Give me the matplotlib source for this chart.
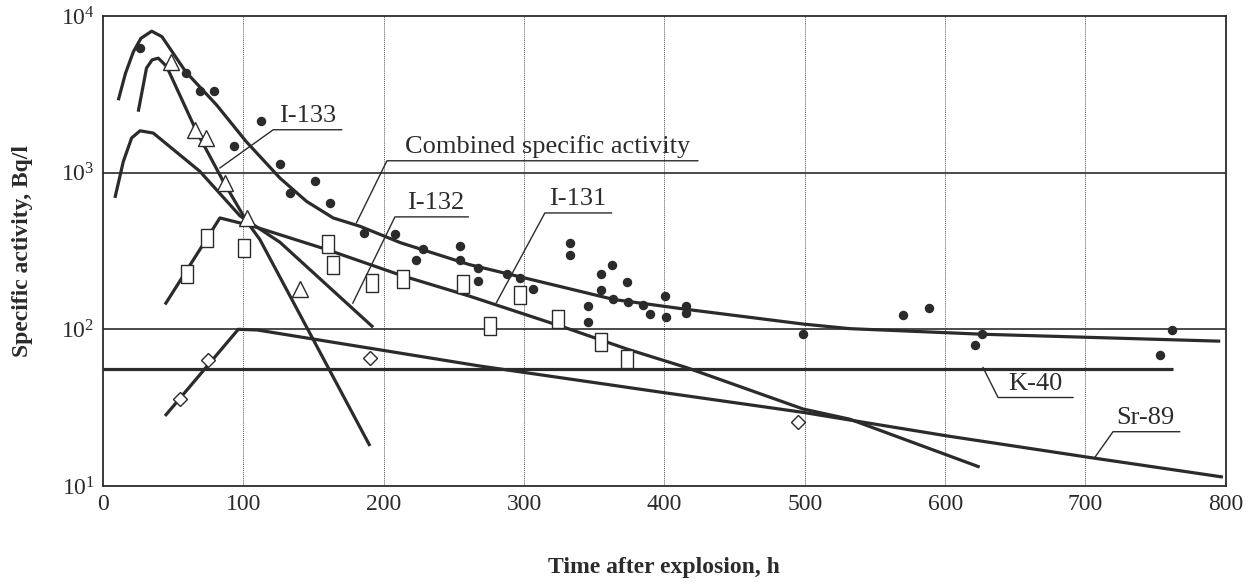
import numpy as np
import matplotlib.pyplot as plt
from matplotlib.transforms import offset_copy

plt.rcParams['font.family'] = ['Liberation Serif', 'DejaVu Serif']
plt.rcParams['mathtext.fontset'] = 'custom'
plt.rcParams['mathtext.rm'] = 'Liberation Serif'

# fitted curves: time after explosion (h), specific activity (Bq/l)
combined_t = [10.9, 16, 21.6, 27, 34.7, 42, 59, 81, 102, 126, 145, 164, 183, 212, 261, 364, 416, 499, 532, 627, 796]
combined_v = [2900, 4300, 5900, 7200, 8000, 7380, 4400, 2700, 1580, 925, 656, 514, 455, 357, 259, 155, 134, 108, 101, 93, 84]

i133_t = [25.1, 31, 35, 39.4, 45.3, 66.7, 85.7, 102.3, 111.8, 149.8, 190.2]
i133_v = [2450, 4650, 5250, 5380, 4770, 1830, 880, 490, 374, 86, 18]

i132_t = [8.5, 14.5, 20.4, 26.4, 35.8, 69, 97.6, 126, 192.5]
i132_v = [690, 1180, 1665, 1850, 1790, 1020, 530, 360, 103]

i131_t = [44.2, 83.3, 107, 159, 213.7, 261, 330, 373, 415.7, 498.8, 532, 624.6]
i131_v = [144, 514, 455, 324, 219, 163, 102, 75, 57, 31, 26.7, 13.2]

sr89_t = [44.2, 96.4, 110, 268.5, 399, 498.8, 600.9, 703, 797.9]
sr89_v = [28, 100, 99, 58.3, 39.5, 29.5, 20.9, 15.2, 11.4]

k40_t = [0, 762]
k40_v = [55.6, 55.6]

# measured points
dots_t = [26.4, 59.1, 69.1, 79.1, 93.5, 112.5, 126, 133.2, 151, 161.7, 186, 208, 223, 228,
          254.3, 254.3, 267.3, 267.3, 287.5, 297, 306.5, 333, 333, 345.6, 345.6, 354.5, 354.5,
          363, 363.5, 373, 374, 384.8, 390, 400.3, 401, 415.2, 415.2, 498.8, 570, 588.5, 621,
          626.6, 753.3, 761.8]
dots_v = [6220, 4315, 3325, 3300, 1472, 2143, 1135, 743, 880, 641, 413, 403, 276, 324,
          339, 276, 247, 203, 224, 213, 180, 357, 296, 141, 111, 224, 178,
          257, 155, 200, 150, 143, 125, 162, 119, 141, 128, 93, 123, 136, 79,
          93, 69, 99]

tri_t = [48.8, 65.5, 73.4, 87, 102.3, 140.3]
tri_v = [5120, 1880, 1665, 860, 514, 180]

sq_t = [60, 74.3, 100.4, 160.5, 164, 191.4, 213.9, 256.6, 276, 297, 324, 355, 373.6]
sq_v = [226, 384, 331, 348, 259, 198, 211, 194, 105, 165, 116, 83, 65]

dia_t = [54.8, 75, 190.2, 495.2]
dia_v = [36, 64, 66, 25.7]

x_ticks = [0, 100, 200, 300, 400, 500, 600, 700, 800]
y_ticks = [10, 100, 1000, 10000]
y_ticklabels = [r'$\mathregular{10^{1}}$', r'$\mathregular{10^{2}}$',
                r'$\mathregular{10^{3}}$', r'$\mathregular{10^{4}}$']

ink = '#2b2b2b'

fig = plt.figure(figsize=(12.56, 5.82), dpi=100)
ax = fig.add_axes([0.082, 0.165, 0.894, 0.8075])
ax.set_yscale('log')
ax.set_xlim(0, 800)
ax.set_ylim(10, 10000)

for x in x_ticks[1:-1]:
    ax.axvline(x, color='#555555', lw=0.7, ls=(0, (1, 1)), zorder=1)
for y in [100, 1000]:
    ax.axhline(y, color=ink, lw=1.2, zorder=1)

curve_kw = dict(color=ink, lw=2.3, solid_capstyle='butt', zorder=3)
ax.plot(combined_t, combined_v, **curve_kw)
ax.plot(i133_t, i133_v, **curve_kw)
ax.plot(i132_t, i132_v, **curve_kw)
ax.plot(i131_t, i131_v, **curve_kw)
ax.plot(sr89_t, sr89_v, **curve_kw)
ax.plot(k40_t, k40_v, **curve_kw)

rect = [(-0.6, -1), (0.6, -1), (0.6, 1), (-0.6, 1), (-0.6, -1)]
ax.plot(dots_t, dots_v, 'o', ms=5.8, color=ink, zorder=4)
ax.plot(tri_t, tri_v, '^', ms=11, mfc='white', mec=ink, mew=1.0, zorder=4)
ax.plot(sq_t, sq_v, marker=rect, ls='none', ms=13.5, mfc='white', mec=ink, mew=1.0, zorder=4)
ax.plot(dia_t, dia_v, 'D', ms=7.5, mfc='white', mec=ink, mew=1.0, zorder=4)

# labels with leader lines: (text, text x, underline x0, x1, underline y, leader end x, y)
labels = [
    ('I-133', 146, 121.3, 170, 1879, 83.3, 1072),
    ('Combined specific activity', 317, 202.3, 423.8, 1191, 180.6, 479),
    ('I-132', 237, 208, 260.2, 522, 178, 147),
    ('I-131', 338, 314.8, 362.3, 553, 280.3, 148),
    ('K-40', 664.5, 637.7, 691.1, 36.7, 627, 57),
    ('Sr-89', 743, 719.6, 767.1, 22.2, 706.6, 15.2),
]
text_tr = offset_copy(ax.transData, fig=fig, y=3, units='dots')
for s, tx, x0, x1, uy, lx, ly in labels:
    ax.plot([lx, x0, x1], [ly, uy, uy], color=ink, lw=1.0, zorder=2)
    ax.text(tx, uy, s, transform=text_tr, ha='center', va='bottom',
            fontsize=19, color=ink, zorder=5)

ax.set_xticks(x_ticks)
ax.set_xticklabels([str(x) for x in x_ticks])
ax.set_yticks(y_ticks)
ax.set_yticklabels(y_ticklabels)
ax.yaxis.set_minor_locator(plt.NullLocator())
ax.tick_params(length=0, labelsize=17, colors=ink, pad=6)

for sp in ax.spines.values():
    sp.set_color(ink)
    sp.set_linewidth(1.3)

ax.set_xlabel('Time after explosion, h', fontsize=17, fontweight='bold', color=ink, labelpad=30)
ax.set_ylabel('Specific activity, Bq/l', fontsize=17, fontweight='bold', color=ink, labelpad=20)

fig.savefig('out.png', dpi=100)
